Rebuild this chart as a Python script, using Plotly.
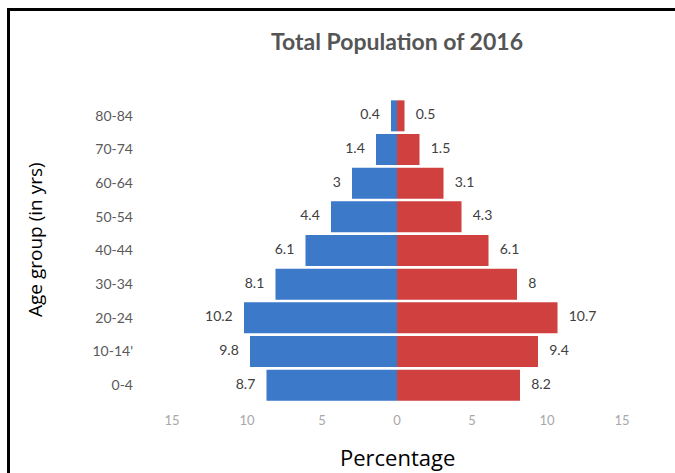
import plotly.graph_objects as go

age_groups = ["0-4", "10-14'", "20-24", "30-34", "40-44", "50-54", "60-64", "70-74", "80-84"]
left_values = [8.7, 9.8, 10.2, 8.1, 6.1, 4.4, 3, 1.4, 0.4]
right_values = [8.2, 9.4, 10.7, 8, 6.1, 4.3, 3.1, 1.5, 0.5]
tick_vals = [-15, -10, -5, 0, 5, 10, 15]
tick_text = ["15", "10", "5", "0", "5", "10", "15"]

W, H = 675, 473
ML, MR, MT, MB = 145, 35, 99, 71
PW, PH = W - ML - MR, H - MT - MB
ZERO_PX = 397
UNIT = 15.0
x_range = [(ML - ZERO_PX) / UNIT, (W - MR - ZERO_PX) / UNIT]
label_gap = 0.75

blue = "#3c79c9"
red = "#d0403f"

fig = go.Figure()
fig.add_trace(go.Bar(y=age_groups, x=[-v for v in left_values], orientation="h",
                     marker=dict(color=blue, line=dict(width=0)), hoverinfo="skip"))
fig.add_trace(go.Bar(y=age_groups, x=right_values, orientation="h",
                     marker=dict(color=red, line=dict(width=0)), hoverinfo="skip"))
fig.add_trace(go.Scatter(y=age_groups, x=[-(v + label_gap) for v in left_values], mode="text",
                         text=[str(v) for v in left_values], textposition="middle left",
                         textfont=dict(family="Lato", size=14, color="#404040"), hoverinfo="skip"))
fig.add_trace(go.Scatter(y=age_groups, x=[v + label_gap for v in right_values], mode="text",
                         text=[str(v) for v in right_values], textposition="middle right",
                         textfont=dict(family="Lato", size=14, color="#404040"), hoverinfo="skip"))

def px_to_paper_x(px):
    return (px - ML) / PW

def px_to_paper_y(py):
    return (H - MB - py) / PH

shapes = [
    dict(type="line", xref="paper", yref="paper",
         x0=px_to_paper_x(8.5), x1=px_to_paper_x(8.5), y0=px_to_paper_y(8), y1=px_to_paper_y(480),
         line=dict(color="black", width=3)),
    dict(type="line", xref="paper", yref="paper",
         x0=px_to_paper_x(7), x1=px_to_paper_x(690), y0=px_to_paper_y(9.5), y1=px_to_paper_y(9.5),
         line=dict(color="black", width=3)),
]

fig.update_layout(
    width=W, height=H,
    margin=dict(l=ML, r=MR, t=MT, b=MB),
    paper_bgcolor="white", plot_bgcolor="white",
    barmode="relative", bargap=0.08,
    showlegend=False,
    title=dict(text="<b>Total Population of 2016</b>", x=px_to_paper_x(397), xref="paper",
               xanchor="center", y=(H - 42) / H, yanchor="middle",
               font=dict(family="Lato", size=23, color="#555555")),
    xaxis=dict(range=x_range, tickvals=tick_vals, ticktext=tick_text, showgrid=False,
               zeroline=False, showline=False, ticks="", ticklabelstandoff=9,
               tickfont=dict(family="Lato", size=13, color="#a8a8a8")),
    yaxis=dict(categoryorder="array", categoryarray=age_groups, showgrid=False,
               zeroline=False, showline=False, ticks="", ticklabelstandoff=11,
               tickfont=dict(family="Lato", size=14, color="#5a5a5a")),
    shapes=shapes,
    annotations=[
        dict(text="Percentage", xref="paper", yref="paper", x=px_to_paper_x(397),
             y=px_to_paper_y(457), xanchor="center", yanchor="middle", showarrow=False,
             font=dict(family="Open Sans", size=22, color="black")),
        dict(text="Age group (in yrs)", xref="paper", yref="paper", x=px_to_paper_x(35),
             y=px_to_paper_y(240), xanchor="center", yanchor="middle", textangle=-90,
             showarrow=False, font=dict(family="Open Sans", size=19, color="black")),
    ],
)

fig.write_html("out.html", config={"displayModeBar": False},
               post_script="document.body.style.margin='0px';document.body.style.overflow='hidden';")
